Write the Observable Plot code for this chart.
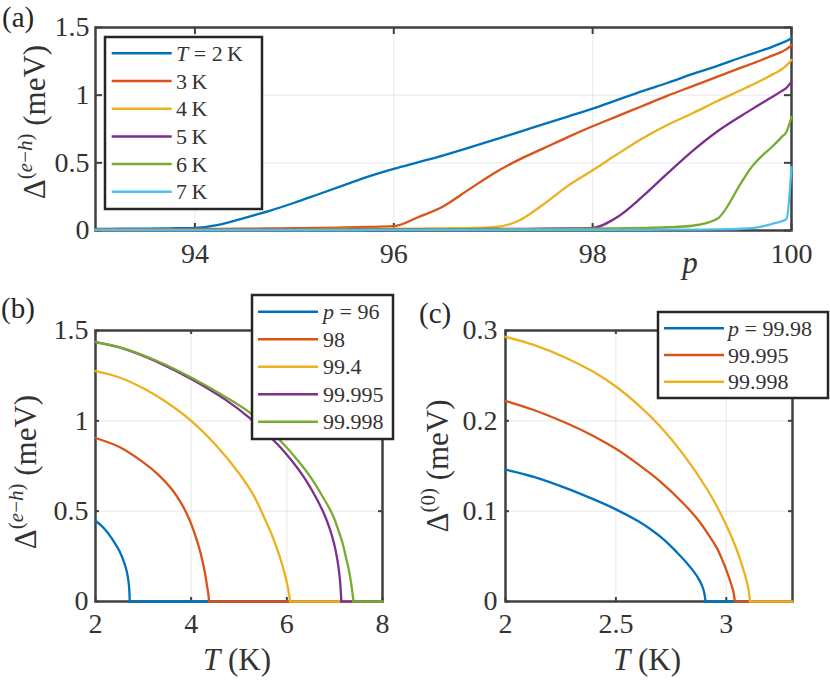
<!DOCTYPE html>
<html><head><meta charset="utf-8">
<script src="https://cdn.jsdelivr.net/npm/d3@7"></script>
<script src="https://cdn.jsdelivr.net/npm/@observablehq/plot@0.6"></script>
<style>
body{margin:0;background:#fff}
#fig{position:relative;width:830px;height:680px;background:#fff;overflow:hidden}
#fig svg{position:absolute;overflow:visible}
#fig svg text{font-family:"Liberation Serif",serif}
</style></head><body><div id="fig"></div>
<script>
const colors = ["#0072BD","#D95319","#EDB120","#7E2F8E","#77AC30","#4DBEEE"];

// ---------- Panel (a): Delta^(e-h) vs p ----------
const pA = [93, 93.25, 93.5, 93.75, 94, 94.25, 94.5, 94.75, 95, 95.25, 95.5, 95.75, 96, 96.25, 96.5, 96.75, 97, 97.25, 97.5, 97.75, 98, 98.25, 98.5, 98.75, 99, 99.25, 99.5, 99.6, 99.7, 99.8, 99.9, 99.95, 100];
const dA_T2 = [0.012,0.013,0.014,0.016,0.02,0.044,0.094,0.145,0.205,0.27,0.335,0.40,0.455,0.505,0.555,0.61,0.668,0.725,0.784,0.842,0.9,0.965,1.03,1.09,1.155,1.215,1.28,1.305,1.33,1.355,1.385,1.4,1.42];
const dA_T3 = [0.008,0.008,0.009,0.01,0.011,0.012,0.013,0.015,0.017,0.02,0.022,0.026,0.032,0.1,0.18,0.30,0.42,0.52,0.605,0.69,0.77,0.845,0.92,0.995,1.065,1.135,1.205,1.232,1.26,1.29,1.32,1.34,1.37];
const dA_T4 = [0.006,0.006,0.006,0.007,0.007,0.008,0.008,0.009,0.009,0.01,0.011,0.012,0.013,0.014,0.016,0.018,0.024,0.07,0.19,0.33,0.445,0.565,0.68,0.78,0.865,0.955,1.04,1.075,1.11,1.15,1.19,1.22,1.26];
const dA_T5 = [0.005,0.005,0.005,0.005,0.006,0.006,0.006,0.006,0.007,0.007,0.007,0.008,0.008,0.009,0.009,0.01,0.011,0.012,0.013,0.015,0.02,0.1,0.25,0.42,0.585,0.73,0.85,0.895,0.94,0.985,1.03,1.055,1.1];
const dA_T6 = [0.004,0.004,0.004,0.004,0.005,0.005,0.005,0.005,0.005,0.006,0.006,0.006,0.007,0.007,0.008,0.008,0.009,0.01,0.011,0.012,0.014,0.016,0.019,0.024,0.035,0.085,0.36,0.47,0.55,0.615,0.69,0.73,0.84];
const dA_T7 = [0.003,0.003,0.003,0.003,0.003,0.003,0.003,0.003,0.003,0.003,0.003,0.004,0.004,0.004,0.004,0.004,0.004,0.004,0.005,0.005,0.005,0.005,0.005,0.006,0.006,0.008,0.013,0.018,0.028,0.048,0.068,0.085,0.47];
const labelsA = ["T = 2\u2009K","3\u2009K","4\u2009K","5\u2009K","6\u2009K","7\u2009K"];
const xTicksA = [94, 96, 98, 100];
const yTicksA = [0, 0.5, 1, 1.5];

// ---------- Panel (b): Delta^(e-h) vs T ----------
const tB_96 = [2, 2.1, 2.2, 2.3, 2.4, 2.5, 2.6, 2.65, 2.68, 2.7, 2.71, 2.715, 8];
const dB_96 = [0.447, 0.425, 0.398, 0.365, 0.325, 0.28, 0.215, 0.17, 0.13, 0.085, 0.045, 0, 0];
const tB_98 = [2, 2.5, 3, 3.3, 3.6, 3.8, 3.9, 4.0, 4.1, 4.2, 4.28, 4.33, 4.36, 4.375, 8];
const dB_98 = [0.905, 0.855, 0.77, 0.705, 0.62, 0.54, 0.49, 0.43, 0.355, 0.265, 0.17, 0.09, 0.04, 0, 0];
const tB_994 = [2, 2.5, 3, 3.5, 4, 4.5, 5, 5.3, 5.5, 5.7, 5.85, 5.95, 6.02, 6.05, 6.065, 8];
const dB_994 = [1.275, 1.24, 1.18, 1.1, 1.0, 0.87, 0.71, 0.59, 0.48, 0.36, 0.25, 0.16, 0.08, 0.035, 0, 0];
const tB_99995 = [2, 2.6, 3.3, 4, 4.7, 5.2, 5.8, 6.1, 6.36, 6.6, 6.78, 6.9, 6.99, 7.05, 7.09, 7.12, 7.14, 8];
const dB_99995 = [1.435, 1.398, 1.325, 1.232, 1.12, 1.02, 0.872, 0.78, 0.687, 0.58, 0.484, 0.4, 0.318, 0.24, 0.17, 0.09, 0, 0];
const tB_99998 = [2, 2.6, 3.3, 4, 4.7, 5.25, 5.93, 6.23, 6.5, 6.75, 6.95, 7.07, 7.17, 7.24, 7.3, 7.35, 7.395, 8];
const dB_99998 = [1.435, 1.40, 1.33, 1.24, 1.135, 1.04, 0.872, 0.78, 0.687, 0.58, 0.484, 0.4, 0.318, 0.24, 0.17, 0.09, 0, 0];
const labelsB = ["p = 96","98","99.4","99.995","99.998"];
const xTicksB = [2, 4, 6, 8];
const yTicksB = [0, 0.5, 1, 1.5];

// ---------- Panel (c): Delta^(0) vs T ----------
const tC_9998 = [2, 2.128, 2.28, 2.4, 2.5, 2.6, 2.657, 2.72, 2.778, 2.82, 2.853, 2.875, 2.891, 2.9, 2.906, 3.3];
const dC_9998 = [0.146, 0.138, 0.125, 0.113, 0.102, 0.089, 0.08, 0.068, 0.054, 0.043, 0.033, 0.025, 0.017, 0.01, 0, 0];
const tC_99995 = [2, 2.128, 2.28, 2.4, 2.5, 2.6, 2.7, 2.808, 2.87, 2.914, 2.96, 2.982, 3.0, 3.02, 3.032, 3.039, 3.3];
const dC_99995 = [0.222, 0.212, 0.197, 0.183, 0.169, 0.152, 0.133, 0.108, 0.091, 0.076, 0.058, 0.046, 0.035, 0.021, 0.011, 0, 0];
const tC_99998 = [2, 2.128, 2.28, 2.4, 2.5, 2.6, 2.7, 2.808, 2.914, 2.96, 3.005, 3.04, 3.065, 3.085, 3.098, 3.104, 3.107, 3.3];
const dC_99998 = [0.293, 0.284, 0.269, 0.254, 0.238, 0.218, 0.194, 0.162, 0.124, 0.104, 0.082, 0.062, 0.045, 0.029, 0.017, 0.008, 0, 0];
const labelsC = ["p = 99.98","99.995","99.998"];
const xTicksC = [2, 2.5, 3];
const yTicksC = [0, 0.1, 0.2, 0.3];

// ---------- drawing helpers ----------
const FONT = "Liberation Serif, serif";
const TXT = "#333333";
const AX = "#404040";

// split a gap curve into its decaying part (up to the first zero) and the flat zero tail
function lineMarks(s) {
  if (!s.split) {
    return [Plot.line(s.x.map((x, i) => ({x, y: s.y[i]})),
      {x: "x", y: "y", stroke: s.color, strokeWidth: 2.3, curve: "monotone-x"})];
  }
  const k = s.y.indexOf(0);
  const pts = s.x.map((x, i) => ({x, y: s.y[i]}));
  return [
    Plot.line(pts.slice(k), {x: "x", y: "y", stroke: s.color, strokeWidth: 2.3}),
    Plot.line(pts.slice(0, k + 1), {x: "x", y: "y", stroke: s.color, strokeWidth: 2.3, curve: "catmull-rom"})
  ];
}

function panel(o) {
  const pw = o.width - o.ml - o.mr, ph = o.height - o.mt - o.mb;
  const tick = {stroke: AX, strokeWidth: 2};
  const marks = [
    Plot.gridX(o.xticks, {stroke: "#000", strokeOpacity: 0.09, strokeWidth: 1}),
    Plot.gridY(o.yticks, {stroke: "#000", strokeOpacity: 0.09, strokeWidth: 1}),
    Plot.frame({stroke: AX, strokeWidth: 2.5}),
    Plot.ruleX(o.xticks, {...tick, insetTop: ph - o.tl}),
    Plot.ruleX(o.xticks, {...tick, insetBottom: ph - o.tl}),
    Plot.ruleY(o.yticks, {...tick, insetRight: pw - o.tl}),
    Plot.ruleY(o.yticks, {...tick, insetLeft: pw - o.tl}),
    ...o.series.flatMap(lineMarks),
    Plot.axisX(o.xticks, {tickSize: 0, tickPadding: o.xpad, fontSize: 28, label: null, tickFormat: d => String(d), fill: TXT}),
    Plot.axisY(o.yticks, {tickSize: 0, tickPadding: o.ypad, fontSize: 28, label: null, tickFormat: d => String(d), fill: TXT})
  ];
  const svg = Plot.plot({
    width: o.width, height: o.height,
    marginLeft: o.ml, marginRight: o.mr, marginTop: o.mt, marginBottom: o.mb,
    x: {domain: o.xdom}, y: {domain: o.ydom},
    style: {fontFamily: FONT, fontSize: "28px", color: TXT, background: "transparent", overflow: "visible"},
    marks
  });
  svg.style.left = o.left + "px";
  svg.style.top = o.top + "px";
  document.getElementById("fig").appendChild(svg);
  return d3.select(svg);
}

function mathText(t, label) {
  const m = label.match(/^([Tp]) = (.*)$/);
  if (m) {
    t.append("tspan").attr("font-style", "italic").text(m[1]);
    t.append("tspan").text(" = " + m[2]);
  } else {
    t.append("tspan").text(label);
  }
}

function legend(sel, box, labels, cols) {
  const g = sel.append("g");
  g.append("rect").attr("x", box.x).attr("y", box.y).attr("width", box.w).attr("height", box.h)
    .attr("fill", "#fff").attr("stroke", "#262626").attr("stroke-width", 2.5);
  labels.forEach((lab, i) => {
    const cy = box.y + box.r0 + i * box.dr;
    g.append("line").attr("x1", box.lx0).attr("x2", box.lx1).attr("y1", cy).attr("y2", cy)
      .attr("stroke", cols[i]).attr("stroke-width", 2.5);
    const t = g.append("text").attr("x", box.tx).attr("y", cy + 7.5).attr("text-anchor", "start")
      .attr("font-size", 22).attr("fill", TXT);
    mathText(t, lab);
  });
}

function deltaLabel(sel, x, y, sup) {
  const t = sel.append("text").attr("transform", `translate(${x},${y}) rotate(-90)`)
    .attr("text-anchor", "middle").attr("font-size", 31).attr("fill", TXT);
  t.append("tspan").text("\u0394");
  sup.forEach(([str, it], i) => {
    const s = t.append("tspan").attr("font-size", 21).text(str);
    if (it) s.attr("font-style", "italic");
    if (i === 0) s.attr("dy", -13);
  });
  t.append("tspan").attr("dy", 13).text(" (meV)");
}

function tLabel(sel, x, y) {
  const t = sel.append("text").attr("x", x).attr("y", y).attr("text-anchor", "middle")
    .attr("font-size", 31).attr("fill", TXT);
  t.append("tspan").attr("font-style", "italic").text("T");
  t.append("tspan").text(" (K)");
}

function panelLetter(sel, x, y, s) {
  sel.append("text").attr("x", x).attr("y", y).attr("text-anchor", "start").attr("font-size", 29)
    .attr("fill", "#262626").text(s);
}

// ---------- Panel (a) ----------
const seriesA = [dA_T2, dA_T3, dA_T4, dA_T5, dA_T6, dA_T7].map((d, i) => ({x: pA, y: d, color: colors[i]}));
const a = panel({left: 0, top: 0, width: 830, height: 280, ml: 95, mr: 39, mt: 27, mb: 50,
  xdom: [93, 100], ydom: [0, 1.5], xticks: xTicksA, yticks: yTicksA, series: seriesA, tl: 7, xpad: 13, ypad: 6});
legend(a, {x: 105, y: 37, w: 157, h: 172, r0: 16.3, dr: 27.7, lx0: 111.7, lx1: 171.7, tx: 176}, labelsA, colors);
deltaLabel(a, 45, 122, [["(", false], ["e", true], ["\u2212", false], ["h", true], [")", false]]);
a.append("text").attr("x", 690).attr("y", 273).attr("text-anchor", "middle").attr("font-size", 31)
  .attr("font-style", "italic").attr("fill", TXT).text("p");
panelLetter(a, 2, 27, "(a)");

// ---------- Panel (b) ----------
const seriesB = [[tB_96, dB_96], [tB_98, dB_98], [tB_994, dB_994], [tB_99995, dB_99995], [tB_99998, dB_99998]]
  .map(([t, d], i) => ({x: t, y: d, color: colors[i], split: true}));
const b = panel({left: 0, top: 280, width: 415, height: 400, ml: 95, mr: 33, mt: 50, mb: 79,
  xdom: [2, 8], ydom: [0, 1.5], xticks: xTicksB, yticks: yTicksB, series: seriesB, tl: 4, xpad: 12, ypad: 7});
legend(b, {x: 252, y: 15, w: 141, h: 144, r0: 16.7, dr: 27.5, lx0: 258, lx1: 318, tx: 323}, labelsB, colors);
deltaLabel(b, 36, 192, [["(", false], ["e", true], ["\u2212", false], ["h", true], [")", false]]);
tLabel(b, 237, 390);
panelLetter(b, 1, 38, "(b)");

// ---------- Panel (c) ----------
const seriesC = [[tC_9998, dC_9998], [tC_99995, dC_99995], [tC_99998, dC_99998]]
  .map(([t, d], i) => ({x: t, y: d, color: colors[i], split: true}));
const c = panel({left: 415, top: 280, width: 415, height: 400, ml: 90, mr: 38, mt: 50, mb: 79,
  xdom: [2, 3.3], ydom: [0, 0.3], xticks: xTicksC, yticks: yTicksC, series: seriesC, tl: 4, xpad: 12, ypad: 8});
legend(c, {x: 243, y: 32, w: 170, h: 86, r0: 16.3, dr: 26.7, lx0: 249, lx1: 309, tx: 313}, labelsC, colors);
deltaLabel(c, 33, 186, [["(0)", false]]);
tLabel(c, 232, 390);
panelLetter(c, 4, 43, "(c)");
</script>
</body></html>
